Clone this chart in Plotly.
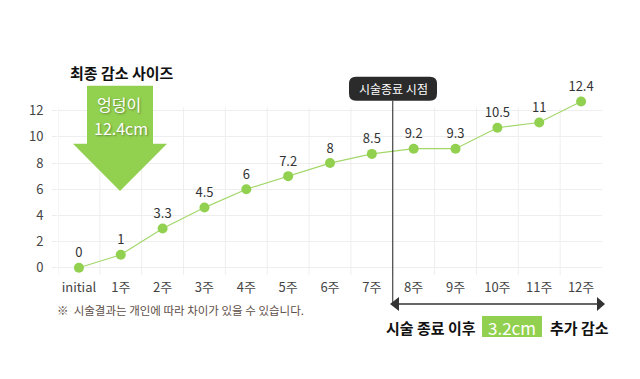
import plotly.graph_objects as go

categories = ["initial", "1주", "2주", "3주", "4주", "5주", "6주", "7주", "8주", "9주", "10주", "11주", "12주"]
values = [0, 1, 3.0, 4.6, 6.0, 7.0, 8.0, 8.7, 9.1, 9.1, 10.7, 11.1, 12.7]
value_labels = ["0", "1", "3.3", "4.5", "6", "7.2", "8", "8.5", "9.2", "9.3", "10.5", "11", "12.4"]
y_ticks = [0, 2, 4, 6, 8, 10, 12]

FONT = "Noto Sans CJK KR"
GREEN = "#92d050"

# the page body has an 8px margin: the figure starts at screen (8, 8)
OFF = 8
W, H = 640 - OFF, 379 - OFF
Y0_PX, SCALE = 267.8, 13.07       # screen y of value 0, px per unit
Y_MIN, Y_MAX = -0.55, 13.2
L, R = 58, 602
B = Y0_PX - Y_MIN * SCALE
T = Y0_PX - Y_MAX * SCALE


def px(x):
    return (x - L) / (R - L)


def py(y):
    return (B - y) / (B - T)


def P(x, y):
    return f"{px(x):.5f},{py(y):.5f}"


def path(points):
    return "M " + " L ".join(P(x, y) for x, y in points) + " Z"


fig = go.Figure()
fig.add_trace(go.Scatter(
    x=categories, y=values, text=value_labels,
    mode="lines+markers+text", textposition="top center",
    textfont=dict(family=FONT, size=13, color="#333"),
    marker=dict(size=10, color=GREEN),
    line=dict(color="#a3d76a", width=1.2),
    cliponaxis=False, hoverinfo="skip",
))

shapes = []
# vertical grid lines at category boundaries
for k in range(len(categories)):
    shapes.append(dict(type="line", xref="x", yref="y", x0=k - 0.5, x1=k - 0.5,
                       y0=Y_MIN, y1=12.25, line=dict(color="#eeeeee", width=1), layer="below"))

# big green arrow
shapes.append(dict(type="path", xref="paper", yref="paper",
                   path=path([(87, 86), (153, 86), (153, 144), (167, 144), (120, 191), (73, 144), (87, 144)]),
                   fillcolor=GREEN, line=dict(width=0), layer="above"))

# rounded badge
x0, x1, y0, y1, r = 349, 437, 77, 101, 7
badge = (f"M {P(x0 + r, y0)} L {P(x1 - r, y0)} Q {P(x1, y0)} {P(x1, y0 + r)} "
         f"L {P(x1, y1 - r)} Q {P(x1, y1)} {P(x1 - r, y1)} L {P(x0 + r, y1)} "
         f"Q {P(x0, y1)} {P(x0, y1 - r)} L {P(x0, y0 + r)} Q {P(x0, y0)} {P(x0 + r, y0)} Z")
shapes.append(dict(type="path", xref="paper", yref="paper", path=badge,
                   fillcolor="#2b2b2b", line=dict(width=0), layer="above"))

# vertical marker line at boundary between 7주 and 8주
shapes.append(dict(type="line", xref="x", yref="paper", x0=7.5, x1=7.5,
                   y0=py(101), y1=py(304), line=dict(color="#222", width=1), layer="above"))

# double-headed arrow
shapes.append(dict(type="line", xref="paper", yref="paper", x0=px(398), x1=px(598),
                   y0=py(304), y1=py(304), line=dict(color="#333", width=1.5), layer="above"))
shapes.append(dict(type="path", xref="paper", yref="paper",
                   path=path([(390, 304), (399, 297), (399, 311)]),
                   fillcolor="#333", line=dict(width=0), layer="above"))
shapes.append(dict(type="path", xref="paper", yref="paper",
                   path=path([(605, 304), (597, 297), (597, 311)]),
                   fillcolor="#333", line=dict(width=0), layer="above"))

# green highlight box
shapes.append(dict(type="rect", xref="paper", yref="paper", x0=px(482), x1=px(542),
                   y0=py(337), y1=py(316), fillcolor=GREEN, line=dict(width=0), layer="above"))

shadow = "1px 1px 2px rgba(0,0,0,0.35)"
annotations = [
    dict(x=px(122), y=py(73), text="<b>최종 감소 사이즈</b>",
         font=dict(family=FONT, size=15, color="#111")),
    dict(x=px(119), y=py(104), text="엉덩이",
         font=dict(family=FONT, size=16, color="white", shadow=shadow)),
    dict(x=px(121), y=py(128), text="12.4cm",
         font=dict(family=FONT, size=16, color="white", shadow=shadow)),
    dict(x=px(393), y=py(89), text="시술종료 시점",
         font=dict(family=FONT, size=12, color="white")),
    dict(x=px(55), y=py(310), text="※  시술결과는 개인에 따라 차이가 있을 수 있습니다.", xanchor="left",
         font=dict(family=FONT, size=11.5, color="#5e4e48")),
    dict(x=px(478), y=py(327), text="<b>시술 종료 이후</b>", xanchor="right",
         font=dict(family=FONT, size=15, color="#111")),
    dict(x=px(512), y=py(327), text="3.2cm",
         font=dict(family=FONT, size=17, color="white")),
    dict(x=px(548), y=py(327), text="<b>추가 감소</b>", xanchor="left",
         font=dict(family=FONT, size=15, color="#111")),
]
for a in annotations:
    a.setdefault("xanchor", "center")
    a.update(xref="paper", yref="paper", yanchor="middle", showarrow=False)

fig.update_layout(
    width=W, height=H,
    margin=dict(l=L - OFF, r=(W + OFF) - R, t=T - OFF, b=(H + OFF) - B, pad=0),
    paper_bgcolor="white", plot_bgcolor="white",
    showlegend=False,
    shapes=shapes, annotations=annotations,
    font=dict(family=FONT, color="#444"),
    xaxis=dict(type="category", range=[-0.5, 12.5], showgrid=False,
               ticks="", showline=False, zeroline=False, tickangle=0, automargin=False,
               tickfont=dict(family=FONT, size=13, color="#444"),
               ticklabelstandoff=3, fixedrange=True),
    yaxis=dict(range=[Y_MIN, Y_MAX], tickvals=y_ticks,
               showgrid=True, gridcolor="#eeeeee", gridwidth=1,
               ticks="outside", ticklen=5, tickcolor="#eeeeee",
               zeroline=False, showline=False, automargin=False,
               tickfont=dict(family=FONT, size=13, color="#444"),
               ticklabelstandoff=6, fixedrange=True),
)

fig.write_html("out.html", config={"displayModeBar": False})
